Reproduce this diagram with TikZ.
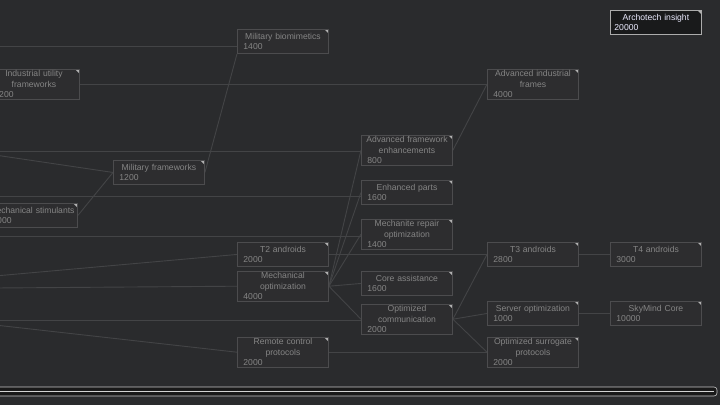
\documentclass[tikz,border=0pt]{standalone}
\usepackage{fontspec}
\setmainfont{Liberation Sans}
\usetikzlibrary{positioning, backgrounds}
\definecolor{bgcol}{HTML}{2A2B2D}
\definecolor{boxcol}{HTML}{2D2D2F}
\definecolor{edgecol}{HTML}{4C4C4E}
\definecolor{txtcol}{HTML}{858585}
\definecolor{linkcol}{HTML}{434446}
\pgfdeclarelayer{canvas}
\pgfsetlayers{canvas,background,main}
\begin{document}
\begin{tikzpicture}[x=1pt, y=-1pt,
            tech/.style={draw=edgecol, line width=0.9pt, fill=boxcol, rectangle, anchor=north west, text width=87pt, inner xsep=2pt, inner ysep=1.2pt,
              minimum height=24pt, align=left, text=txtcol, font=\fontsize{8.6}{10.4}\selectfont,
              path picture={\fill[gray!60] (path picture bounding box.north east) -- ++(-4pt,0) -- ++(4pt,-4pt) -- cycle;}},
            link/.style={draw=linkcol, line width=0.9pt}
        ]
            \useasboundingbox (0,0) rectangle (720,405);
            \begin{pgfonlayer}{canvas}
            \fill[bgcol] (0,0) rectangle (720,405);
            \end{pgfonlayer}
            \node[tech] (mb) at (237,29) {{\centering Military biomimetics\par}\hspace*{4pt}1400};
            \node[tech] (iuf) at (-12,69) {{\centering Industrial utility\\frameworks\par}\hspace*{4pt}1200};
            \node[tech] (mf) at (113,160) {{\centering Military frameworks\par}\hspace*{4pt}1200};
            \node[tech] (ms) at (-14,203) {{\centering Mechanical stimulants\par}\hspace*{4pt}1000};
            \node[tech] (aif) at (487,69) {{\centering Advanced industrial\\frames\par}\hspace*{4pt}4000};
            \node[tech] (afe) at (361,135) {{\centering Advanced framework\\enhancements\par}\hspace*{4pt}800};
            \node[tech] (ep) at (361,180) {{\centering Enhanced parts\par}\hspace*{4pt}1600};
            \node[tech] (mro) at (361,219) {{\centering Mechanite repair\\optimization\par}\hspace*{4pt}1400};
            \node[tech] (ca) at (361,271) {{\centering Core assistance\par}\hspace*{4pt}1600};
            \node[tech] (oc) at (361,304) {{\centering Optimized\\communication\par}\hspace*{4pt}2000};
            \node[tech] (t2) at (237,242) {{\centering T2 androids\par}\hspace*{4pt}2000};
            \node[tech] (mo) at (237,271) {{\centering Mechanical\\optimization\par}\hspace*{4pt}4000};
            \node[tech] (rcp) at (237,337) {{\centering Remote control\\protocols\par}\hspace*{4pt}2000};
            \node[tech] (t3) at (487,242) {{\centering T3 androids\par}\hspace*{4pt}2800};
            \node[tech] (so) at (487,301) {{\centering Server optimization\par}\hspace*{4pt}1000};
            \node[tech] (osp) at (487,337) {{\centering Optimized surrogate\\protocols\par}\hspace*{4pt}2000};
            \node[tech] (t4) at (610,242) {{\centering T4 androids\par}\hspace*{4pt}3000};
            \node[tech] (smc) at (610,301) {{\centering SkyMind Core\par}\hspace*{4pt}10000};
            \node[tech, fill=black!40!bgcol, draw=gray!65, text=blue!8!white] (ai) at (610,10) {{\centering Archotech insight\par}\hspace*{2pt}20000};

            \coordinate (in1) at (-5,46);
            \coordinate (in2) at (-5,155);
            \coordinate (in3) at (-5,151);
            \coordinate (in4) at (-5,196);
            \coordinate (in5) at (-5,236);
            \coordinate (in6) at (-5,276);
            \coordinate (in7) at (-5,288);
            \coordinate (in8) at (-5,320);
            \coordinate (in9) at (-5,325);

            \begin{pgfonlayer}{background}
            \draw[link] (in1) -- (mb.west |- in1);
            \draw[link] (iuf.east) -- (aif.west);
            \draw[link] (mf.east) -- (mb.south west);
            \draw[link] (in2) -- (mf.west);
            \draw[link] (ms.east) -- (mf.west);
            \draw[link] (in3) -- (afe.west |- in3);
            \draw[link] (in4) -- (ep.west |- in4);
            \draw[link] (in5) -- (mro.west |- in5);
            \draw[link] (afe.east) -- (aif.west);
            \draw[link] (in6) -- (t2.west);
            \draw[link] (in7) -- (mo.west);
            \draw[link] (in8) -- (oc.west |- in8);
            \draw[link] (in9) -- (rcp.west);
            \foreach \dst in {afe, ep, mro, ca, oc}
                \draw[link] (mo.east) -- (\dst.west);
            \draw[link] (t2.east) -- (t3.west);
            \draw[link] (t3.east) -- (t4.west);
            \foreach \dst in {t3, so, osp}
                \draw[link] (oc.east) -- (\dst.west);
            \draw[link] (so.east) -- (smc.west);
            \draw[link] (rcp.east) -- (osp.west);
            \end{pgfonlayer}

            % scroll bar
            \draw[fill=black!90, draw=gray!45, rounded corners=3pt, line width=0.6pt] (-5,387) rectangle (717,396);
            \draw[gray!35, line width=0.5pt] (0,391.5) -- (714,391.5);
        \end{tikzpicture}
\end{document}
